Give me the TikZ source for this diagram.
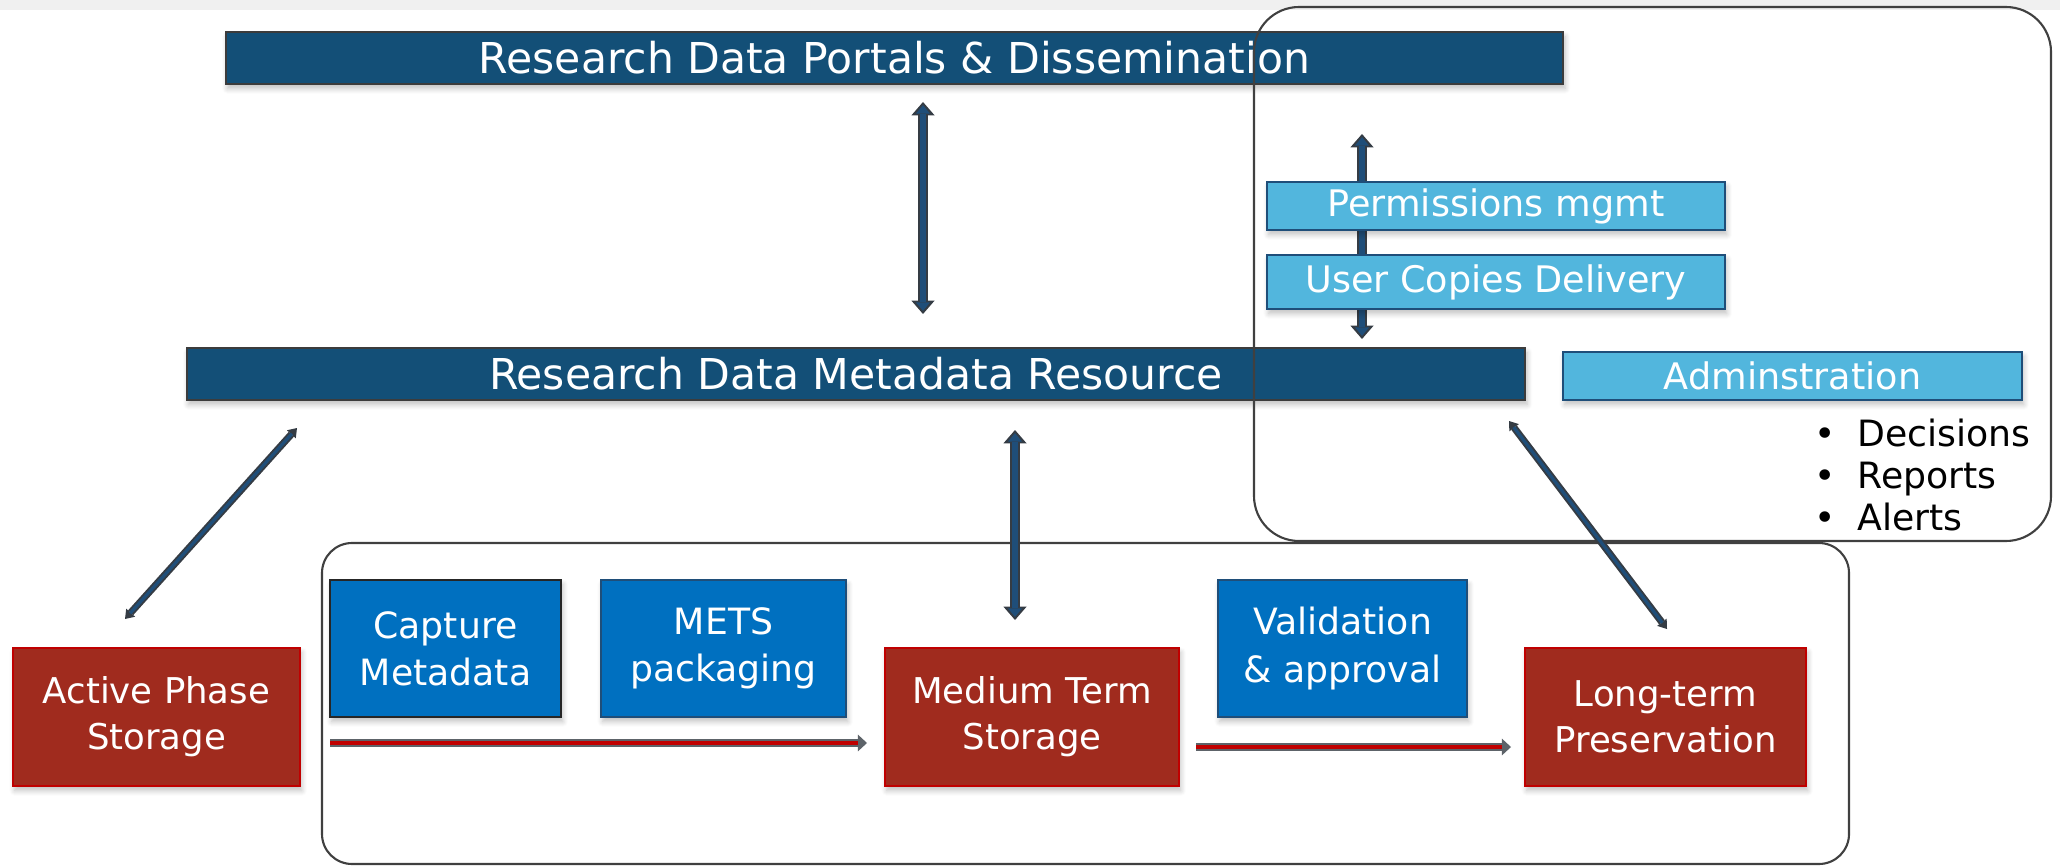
\documentclass[tikz,border=0pt]{standalone}
\usepackage{fontspec}
\setmainfont{DejaVu Sans}
\usetikzlibrary{arrows.meta,shadows.blur}

\definecolor{bandblue}{HTML}{134F77}
\definecolor{bandedge}{HTML}{3C3C3C}
\definecolor{lightblue}{HTML}{52B6DD}
\definecolor{lbedge}{HTML}{1F4E79}
\definecolor{midblue}{HTML}{0070C0}
\definecolor{redfill}{HTML}{A02B1E}
\definecolor{rededge}{HTML}{C00000}
\definecolor{arrowblue}{HTML}{1F4E79}
\definecolor{arrowedge}{HTML}{353C44}
\definecolor{framecol}{HTML}{404040}

\tikzset{
  box/.style={inner sep=0pt, align=center, text=white,
    blur shadow={shadow xshift=0.5pt, shadow yshift=-1.3pt, shadow opacity=25, shadow blur radius=1.5pt, shadow blur steps=6}},
  band/.style={box, fill=bandblue, draw=bandedge, line width=0.6pt, minimum height=0.52cm,
    font=\fontsize{12.1}{14}\selectfont},
  lbbox/.style={box, fill=lightblue, draw=lbedge, line width=0.6pt, minimum width=4.58cm,
    font=\fontsize{10.4}{12}\selectfont},
  mbbox/.style={box, fill=midblue, draw=lbedge, line width=0.6pt, minimum height=1.37cm,
    font=\fontsize{10.3}{13.4}\selectfont},
  redbox/.style={box, fill=redfill, draw=rededge, line width=0.6pt, minimum height=1.38cm,
    font=\fontsize{10.1}{13}\selectfont},
  frm/.style={draw=framecol, line width=0.6pt},
  dblouter/.style={draw=arrowedge, line width=3pt,
    {Triangle[length=3.8pt,width=6.6pt,line width=0pt]}-{Triangle[length=3.8pt,width=6.6pt,line width=0pt]}},
  dblinner/.style={draw=arrowblue, line width=1.6pt, shorten <=0.9pt, shorten >=0.9pt,
    {Triangle[length=2.4pt,width=4pt,line width=0pt]}-{Triangle[length=2.4pt,width=4pt,line width=0pt]}},
  diagouter/.style={draw=arrowedge, line width=2pt,
    {Triangle[length=2.4pt,width=3.4pt,line width=0pt]}-{Triangle[length=2.4pt,width=3.4pt,line width=0pt]}},
  diaginner/.style={draw=arrowblue, line width=0.9pt, shorten <=2.2pt, shorten >=2.2pt},
  flowouter/.style={draw=arrowedge!80, line width=2pt, -{Triangle[length=2.6pt,width=4.8pt,line width=0pt]}},
  flowinner/.style={draw=rededge, line width=0.9pt, shorten >=2.6pt},
  bullet/.style={anchor=base west, inner sep=0pt, text=black, font=\fontsize{10.3}{12}\selectfont},
}

\begin{document}
\begin{tikzpicture}[x=0.01cm, y=-0.01cm]
\useasboundingbox (0,0) rectangle (2060,867);
\fill[black!6] (0,0) rectangle (2060,10);

% bands
\node[band, minimum width=13.37cm] (portals) at (894.5,58) {Research Data Portals \& Dissemination};
\node[band, minimum width=13.38cm] (mdr) at (856,374) {Research Data Metadata Resource};

% arrow behind permission boxes
\coordinate (a2s) at (1362,134);
\coordinate (a2e) at (1362,339);
\draw[dblouter] (a2s) -- (a2e);
\draw[dblinner] (a2s) -- (a2e);

% light blue boxes
\node[lbbox, minimum height=0.48cm] (perm) at (1496,206) {Permissions mgmt};
\node[lbbox, minimum height=0.54cm] (ucd) at (1496,282) {User Copies Delivery};
\node[lbbox, minimum width=4.59cm, minimum height=0.48cm] (admin) at (1792.5,376) {Adminstration};

% bullets
\node[bullet] (b1) at (1814,446) {\makebox[12.2pt][l]{•}Decisions};
\node[bullet] (b2) at (1814,488) {\makebox[12.2pt][l]{•}Reports};
\node[bullet] (b3) at (1814,530) {\makebox[12.2pt][l]{•}Alerts};

% process boxes
\node[mbbox, draw=black!85, minimum width=2.31cm] (capture) at (445.5,648.5) {Capture\\Metadata};
\node[mbbox, minimum width=2.45cm] (mets) at (723.5,648.5) {METS\\packaging};
\node[mbbox, minimum width=2.49cm] (valid) at (1342.5,648.5) {Validation\\\& approval};

% storage boxes
\node[redbox, minimum width=2.87cm] (active) at (156.5,717) {Active Phase\\Storage};
\node[redbox, minimum width=2.94cm] (medium) at (1032,717) {Medium Term\\Storage};
\node[redbox, minimum width=2.81cm] (longterm) at (1665.5,717) {Long-term\\Preservation};

% frames
\draw[frm, rounded corners=0.45cm] (1254,7) rectangle (2051,541);
\draw[frm, rounded corners=0.3cm] (322,543) rectangle (1849,864);

% double arrows
\coordinate (a1s) at (923,102);
\coordinate (a1e) at (923,314);
\draw[dblouter] (a1s) -- (a1e);
\draw[dblinner] (a1s) -- (a1e);

\coordinate (a4s) at (1015,430);
\coordinate (a4e) at (1015,620);
\draw[dblouter] (a4s) -- (a4e);
\draw[dblinner] (a4s) -- (a4e);

\coordinate (a3s) at (297,428);
\coordinate (a3e) at (125,619);
\draw[diagouter] (a3s) -- (a3e);
\draw[diaginner] (a3s) -- (a3e);

\coordinate (a5s) at (1509,421);
\coordinate (a5e) at (1667,629);
\draw[diagouter] (a5s) -- (a5e);
\draw[diaginner] (a5s) -- (a5e);

% flow arrows
\coordinate (h1s) at (330,743);
\coordinate (h1e) at (867,743);
\draw[flowouter] (h1s) -- (h1e);
\draw[flowinner] (h1s) -- (h1e);

\coordinate (h2s) at (1196,747);
\coordinate (h2e) at (1511,747);
\draw[flowouter] (h2s) -- (h2e);
\draw[flowinner] (h2s) -- (h2e);
\end{tikzpicture}
\end{document}
